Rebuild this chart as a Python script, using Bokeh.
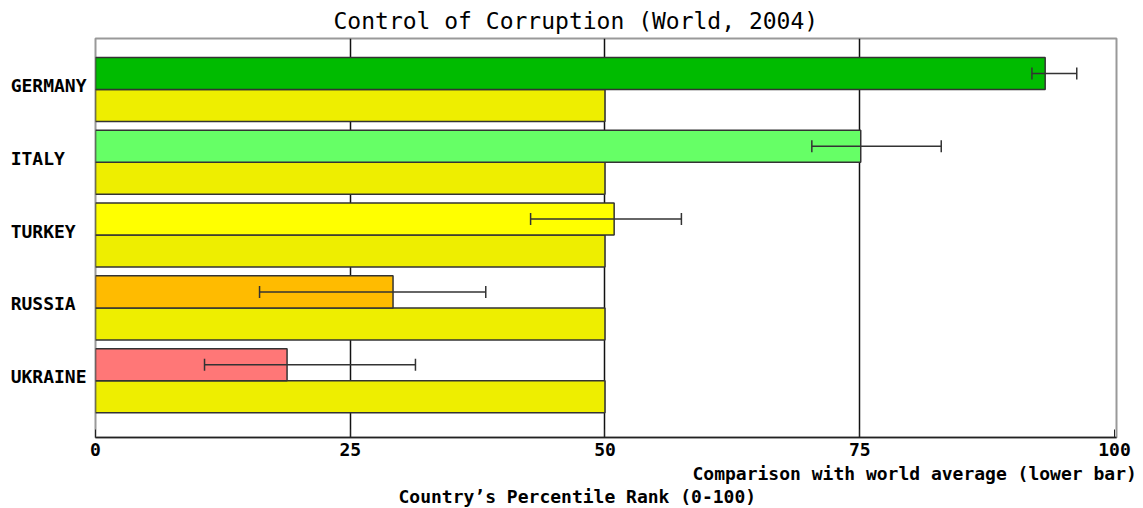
from bokeh.plotting import figure
from bokeh.models import Range1d, FixedTicker, ColumnDataSource, Whisker, TeeHead, Title
from bokeh.embed import file_html
from bokeh.resources import INLINE

countries = ["GERMANY", "ITALY", "TURKEY", "RUSSIA", "UKRAINE"]
rank = [93.2, 75.1, 50.9, 29.2, 18.8]
err_low = [91.9, 70.3, 42.7, 16.1, 10.7]
err_high = [96.3, 83.0, 57.5, 38.3, 31.4]
world_avg = [50, 50, 50, 50, 50]
colors = ["#00BB00", "#66FF66", "#FFFF00", "#FFBB00", "#FF7777"]
avg_color = "#EEEE00"
x_ticks = [0, 25, 50, 75, 100]

FONT = "DejaVu Sans Mono"

p = figure(width=1143, height=508, output_backend="svg", toolbar_location=None,
           x_range=Range1d(0, 100.2), y_range=Range1d(4.835, -0.645),
           min_border_left=95, min_border_right=27, min_border_top=38, min_border_bottom=71,
           title=None)
p.background_fill_color = "white"
p.border_fill_color = "white"
p.outline_line_color = "#999999"
p.outline_line_width = 2
p.ygrid.visible = False

p.xgrid.ticker = FixedTicker(ticks=[25, 50, 75])
p.xgrid.grid_line_color = "#111111"
p.xgrid.grid_line_width = 1.5
p.xgrid.level = "underlay"

ax = p.xaxis[0]
ax.ticker = FixedTicker(ticks=x_ticks)
ax.axis_line_color = "#222222"
ax.axis_line_width = 1.5
ax.major_tick_in = 8
ax.major_tick_out = 0
ax.major_tick_line_color = "#222222"
ax.minor_tick_line_color = None
ax.major_label_text_font = FONT
ax.major_label_text_font_style = "bold"
ax.major_label_text_font_size = "18px"
ax.major_label_text_color = "black"
ax.major_label_standoff = 5

idx = list(range(len(countries)))
width_chars = max(len(c) for c in countries)
padded = [c + "\u00a0" * (width_chars - len(c)) for c in countries]

yax = p.yaxis[0]
yax.ticker = FixedTicker(ticks=idx)
yax.major_label_overrides = {i: name for i, name in enumerate(padded)}
yax.axis_line_color = None
yax.major_tick_line_color = None
yax.minor_tick_line_color = None
yax.major_label_text_font = FONT
yax.major_label_text_font_style = "bold"
yax.major_label_text_font_size = "18px"
yax.major_label_text_color = "black"
yax.major_label_standoff = 3

shift = 0.055
upper_y = [i + shift - 0.22 for i in idx]
lower_y = [i + shift + 0.22 for i in idx]

src = ColumnDataSource(dict(y=upper_y, right=rank, color=colors, lo=err_low, hi=err_high))
src_avg = ColumnDataSource(dict(y=lower_y, right=world_avg))

p.hbar(y="y", left=0, right="right", height=0.44, source=src_avg,
       fill_color=avg_color, line_color="#333333", line_width=1.5)
p.hbar(y="y", left=0, right="right", height=0.44, source=src,
       fill_color="color", line_color="#333333", line_width=1.5)

w = Whisker(source=src, base="y", lower="lo", upper="hi", dimension="width",
            line_color="#333333", line_width=1.5, level="overlay",
            lower_head=TeeHead(size=12, line_color="#333333", line_width=1.5),
            upper_head=TeeHead(size=12, line_color="#333333", line_width=1.5))
p.add_layout(w)

t = Title(text="Control of Corruption (World, 2004)", align="left", offset=238,
          text_font=FONT, text_font_size="23px", text_font_style="normal",
          text_color="black", standoff=9)
p.add_layout(t, "above")

b1 = Title(text="Comparison with world average (lower bar)", align="left", offset=597,
           text_font=FONT, text_font_size="18px", text_font_style="bold",
           text_color="black", standoff=5)
b2 = Title(text="Country\u2019s Percentile Rank (0-100)", align="left", offset=303,
           text_font=FONT, text_font_size="18px", text_font_style="bold",
           text_color="black", standoff=-6)
p.add_layout(b1, "below")
p.add_layout(b2, "below")

open("out.html", "w").write(file_html(p, INLINE))
